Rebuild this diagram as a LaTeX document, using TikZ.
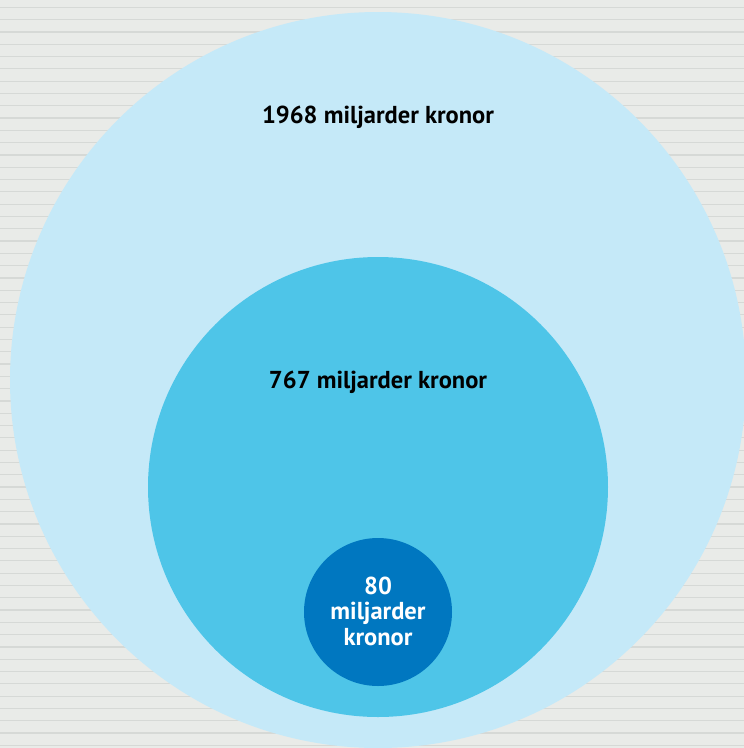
\documentclass[tikz,border=0pt]{standalone}
\usepackage{fontspec}
\setmainfont{PT Sans}
\usepackage{xcolor}
\definecolor{backg}{RGB}{233, 235, 232}
\definecolor{stripe}{RGB}{214, 217, 214}
\definecolor{outer}{RGB}{197, 233, 248}
\definecolor{middle}{RGB}{78, 197, 232}
\definecolor{inner}{RGB}{0, 119, 192}
\usepackage{tikz}
\tikzstyle{stripe} = [line width=1.2pt,draw=stripe]
\tikzstyle{blob} = [circle,inner sep=0pt]
\tikzstyle{amount} = [font=\bfseries\fontsize{24.5}{25.5}\selectfont,align=center]

\begin{document}
\begin{tikzpicture}[x=1pt,y=-1pt]
    \fill[backg] (0,0) rectangle (744,748);
    \useasboundingbox (0,0) rectangle (744,748);
    \foreach \i in {0,1,...,60} {
        \path[stripe] (0,7.3 + \i*12.3) -- ++ (744,0);
    }
    \begin{scope}
        \clip (0,0) rectangle (744,748);
        \node[blob,fill=outer,minimum size=736pt] (total) at (378,380) {};
    \end{scope}
    \node[blob,fill=middle,minimum size=460pt] (part) at (378,487) {};
    \node[blob,fill=inner,minimum size=148pt] (small) at (378,612) {};
    \node[amount] (totaltext) at (378,117) {1968 miljarder kronor};
    \node[amount] (parttext) at (378,382) {767 miljarder kronor};
    \node[amount,text=white] (smalltext) at (378,611) {80\\miljarder\\kronor};
\end{tikzpicture}
\end{document}
